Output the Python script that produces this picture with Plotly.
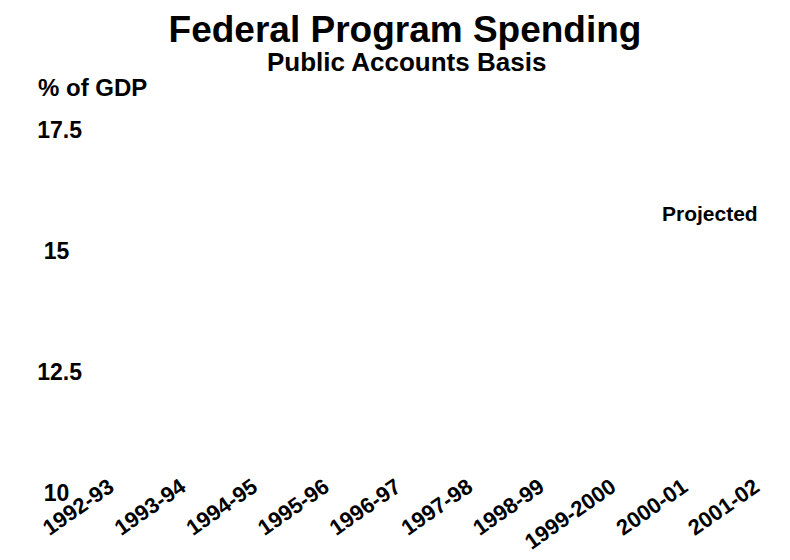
import plotly.graph_objects as go

# Fiscal years shown on the horizontal axis
fiscal_years = ["1992-93", "1993-94", "1994-95", "1995-96", "1996-97",
                "1997-98", "1998-99", "1999-2000", "2000-01", "2001-02"]

# Vertical axis (% of GDP)
y_tick_vals = [10, 12.5, 15, 17.5]
y_tick_text = ["10", "12.5", "15", "17.5"]

title_text = "Federal Program Spending"
subtitle_text = "Public Accounts Basis"
unit_text = "% of GDP"
projected_text = "Projected"

W, H = 790, 560
M_L, M_R, M_T, M_B = 95, 21, 106, 67
PW, PH = W - M_L - M_R, H - M_T - M_B


def px_x(x):
    return (x - M_L) / PW


def px_y(y):
    return (H - M_B - y) / PH


FONT = "Liberation Sans, Arial, sans-serif"

# pad short labels so the column of tick labels reads as centred
width = max(len(t) for t in y_tick_text)
y_labels = [t + "\u2007" * ((width - len(t) + 1) // 2) for t in y_tick_text]

fig = go.Figure()

fig.update_layout(
    width=W, height=H,
    paper_bgcolor="white", plot_bgcolor="white",
    margin=dict(l=M_L, r=M_R, t=M_T, b=M_B, autoexpand=False),
    showlegend=False,
    font=dict(family=FONT, color="black", weight="bold"),
    title=dict(text=title_text, x=405 / W, xanchor="center", xref="container",
               y=1 - 16 / H, yanchor="top",
               font=dict(family=FONT, size=37, color="black", weight="bold")),
    xaxis=dict(
        range=[-0.2, len(fiscal_years) - 0.8],
        tickmode="array",
        tickvals=list(range(len(fiscal_years))),
        ticktext=fiscal_years,
        tickangle=-35,
        tickfont=dict(family=FONT, size=22, color="black", weight="bold"),
        ticklabelstandoff=-24,
        automargin=False,
        showgrid=False, zeroline=False, showline=False, ticks="",
        fixedrange=True,
    ),
    yaxis=dict(
        range=[10, 18],
        tickmode="array",
        tickvals=y_tick_vals,
        ticktext=y_labels,
        tickfont=dict(family=FONT, size=23, color="black", weight="bold"),
        ticklabelstandoff=12,
        automargin=False,
        showgrid=False, zeroline=False, showline=False, ticks="",
        fixedrange=True,
    ),
    annotations=[
        dict(text=subtitle_text, xref="paper", yref="paper",
             x=px_x(406), y=px_y(62), xanchor="center", yanchor="middle",
             showarrow=False, font=dict(family=FONT, size=26, color="black", weight="bold")),
        dict(text=unit_text, xref="paper", yref="paper",
             x=px_x(36), y=px_y(87), xanchor="left", yanchor="middle",
             showarrow=False, font=dict(family=FONT, size=24, color="black", weight="bold")),
        dict(text=projected_text, xref="paper", yref="paper",
             x=px_x(660), y=px_y(213), xanchor="left", yanchor="middle",
             showarrow=False, font=dict(family=FONT, size=21, color="black", weight="bold")),
    ],
)

fig.write_html("out.html")
